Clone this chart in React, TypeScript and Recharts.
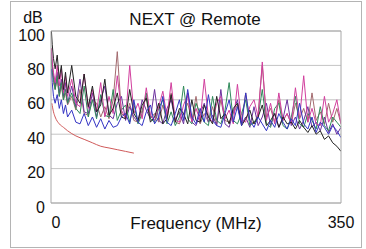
import { LineChart, Line, XAxis, YAxis, CartesianGrid } from 'recharts';

// frequencies (MHz) shared by the measured pairs
const freqs = [
  0.5, 1.5, 3, 5, 7.5, 10, 12.5, 15, 17.5, 20,
  25, 30, 35, 40, 45, 50, 55, 60, 65, 70, 75, 80, 85, 90, 95, 100,
  105, 110, 115, 120, 125, 130, 135, 140, 145, 150, 155, 160, 165, 170, 175, 180,
  185, 190, 195, 200, 205, 210, 215, 220, 225, 230, 235, 240, 245, 250, 255, 260,
  265, 270, 275, 280, 285, 290, 295, 300, 305, 310, 315, 320, 325, 330, 335, 340, 345, 350,
];

// NEXT per pair (dB)
const blue = [
  78, 70, 62, 58, 63, 55, 60, 52, 57, 50,
  54, 47, 46, 52, 45, 50, 44, 49, 43, 48, 44, 45, 50, 52, 46, 60, 47, 45, 53, 57,
  46, 50, 62, 47, 45, 52, 60, 48, 66, 50, 46, 55, 47, 63, 48, 45, 44, 52, 60, 47,
  56, 45, 64, 48, 44, 50, 46, 42, 48, 44, 52, 47, 43, 49, 45, 58, 46, 43, 50, 41,
  47, 44, 40, 45, 42, 38,
];
const green = [
  85, 76, 72, 66, 74, 62, 70, 60, 66, 58,
  64, 55, 52, 68, 50, 60, 49, 63, 51, 50, 66, 48, 54, 57, 47, 58, 46, 52, 64, 49,
  47, 55, 60, 46, 53, 45, 50, 68, 49, 46, 58, 52, 47, 45, 62, 48, 46, 54, 70, 48,
  46, 52, 60, 45, 47, 50, 66, 46, 44, 55, 58, 45, 43, 50, 62, 46, 44, 52, 48, 43,
  56, 45, 42, 50, 47, 44,
];
const magenta = [
  90, 82, 76, 70, 80, 68, 78, 64, 74, 62,
  72, 58, 56, 75, 55, 66, 53, 70, 50, 62, 52, 74, 54, 49, 80, 52, 58, 49, 67, 51,
  48, 56, 65, 50, 70, 48, 47, 57, 63, 47, 55, 48, 72, 50, 47, 58, 62, 49, 54, 46,
  69, 48, 47, 56, 60, 50, 82, 48, 58, 46, 64, 48, 52, 46, 67, 49, 74, 47, 55, 46,
  45, 62, 47, 52, 60, 46,
];
const black = [
  100, 92, 84, 78, 86, 72, 80, 66, 76, 64,
  80, 62, 58, 75, 56, 68, 53, 57, 72, 51, 55, 64, 50, 49, 66, 52, 48, 57, 61, 47,
  50, 58, 46, 49, 63, 47, 55, 52, 46, 60, 48, 47, 57, 50, 46, 62, 49, 52, 46, 55,
  58, 45, 49, 54, 46, 50, 57, 45, 48, 52, 44, 50, 46, 47, 43, 48, 44, 41, 45, 40,
  42, 37, 39, 35, 33, 30,
];
const purple = [
  88, 80, 74, 68, 76, 64, 72, 62, 70, 58,
  68, 56, 72, 53, 52, 64, 50, 60, 68, 51, 49, 58, 62, 48, 56, 50, 47, 60, 54, 49,
  66, 48, 46, 55, 60, 48, 53, 46, 64, 47, 45, 52, 58, 47, 51, 45, 66, 46, 44, 53,
  60, 46, 50, 44, 56, 45, 50, 58, 45, 52, 44, 49, 60, 45, 50, 43, 48, 56, 44, 47,
  42, 50, 41, 46, 40, 44,
];
const mauve = [
  84, 78, 70, 66, 72, 62, 68, 60, 64, 57,
  62, 54, 66, 52, 51, 60, 58, 50, 56, 49, 60, 88, 52, 50, 58, 48, 47, 54, 62, 49,
  52, 47, 57, 48, 64, 47, 46, 52, 58, 48, 62, 46, 52, 47, 56, 46, 60, 48, 47, 52,
  57, 47, 64, 48, 46, 52, 80, 50, 55, 47, 60, 48, 52, 46, 58, 49, 55, 47, 64, 48,
  53, 46, 58, 47, 55, 46,
];

// limit line
const limitFreqs = [1, 3, 5, 10, 15, 20, 30, 40, 50, 60, 70, 80, 90, 100];
const limitDb = [58, 53, 50, 46, 44, 42, 39, 37, 35, 33, 32, 31, 30, 29];

const yTicks = [0, 20, 40, 60, 80, 100];
const xTicks = [0, 350];

const rows = freqs.map((f, i) => ({
  f,
  blue: blue[i],
  green: green[i],
  magenta: magenta[i],
  black: black[i],
  purple: purple[i],
  mauve: mauve[i],
}));
const limit = limitFreqs.map((f, i) => ({ f, limit: limitDb[i] }));

const FONT = '"Liberation Sans", Arial, sans-serif';

const series = [
  { key: 'mauve', color: '#a36a6e' },
  { key: 'purple', color: '#6b2f9e' },
  { key: 'green', color: '#2f8a5a' },
  { key: 'magenta', color: '#d23f9e' },
  { key: 'black', color: '#222222' },
  { key: 'blue', color: '#3434c4' },
];

function XTick({ x, y, payload }: any) {
  const shift = payload.value === 0 ? 5 : 0;
  return (
    <text x={x + shift} y={y} dy={25} textAnchor="middle" fontSize={16} fontFamily={FONT} fill="#111">
      {payload.value}
    </text>
  );
}

export default function App() {
  return (
    <div style={{ position: 'absolute', left: 0, top: 0, width: 366, height: 249, background: '#fff' }}>
      <div
        style={{
          position: 'absolute',
          left: 10,
          top: 1,
          width: 350,
          height: 245,
          border: '1px solid #b4b4b4',
        }}
      />
      <LineChart
        width={366}
        height={249}
        data={rows}
        margin={{ top: 31, right: 25, bottom: 16, left: 0 }}
        style={{ position: 'absolute', left: 0, top: 0 }}
      >
        <CartesianGrid vertical={false} stroke="#c4c4c4" />
        <XAxis
          dataKey="f"
          type="number"
          domain={[0, 350]}
          ticks={xTicks}
          height={30}
          tickSize={0}
          tickMargin={0}
          axisLine={{ stroke: '#a8a8a8' }}
          tickLine={false}
          tick={<XTick />}
          allowDataOverflow
        />
        <YAxis
          type="number"
          domain={[0, 100]}
          ticks={yTicks}
          width={51}
          tickSize={4}
          tickMargin={2}
          axisLine={{ stroke: '#a8a8a8' }}
          tickLine={false}
          tick={{ fontSize: 16, fontFamily: FONT, fill: '#111', dy: 4 }}
        />
        {series.map((s) => (
          <Line
            key={s.key}
            dataKey={s.key}
            stroke={s.color}
            strokeWidth={1}
            dot={false}
            isAnimationActive={false}
          />
        ))}
        <Line
          data={limit}
          dataKey="limit"
          stroke="#d05a5a"
          strokeWidth={1}
          dot={false}
          type="monotone"
          isAnimationActive={false}
        />
      </LineChart>
      <svg
        width={366}
        height={249}
        style={{ position: 'absolute', left: 0, top: 0, pointerEvents: 'none' }}
      >
        <line x1={341} y1={31} x2={341} y2={203} stroke="#a8a8a8" />
        <line x1={51} y1={31} x2={341} y2={31} stroke="#a8a8a8" />
        <text x={33} y={23} textAnchor="middle" fontSize={16} fontFamily={FONT} fill="#111">
          dB
        </text>
        <text x={195} y={25} textAnchor="middle" fontSize={17} fontFamily={FONT} fill="#111">
          NEXT @ Remote
        </text>
        <text x={196} y={229} textAnchor="middle" fontSize={17} fontFamily={FONT} fill="#111">
          Frequency (MHz)
        </text>
      </svg>
    </div>
  );
}
